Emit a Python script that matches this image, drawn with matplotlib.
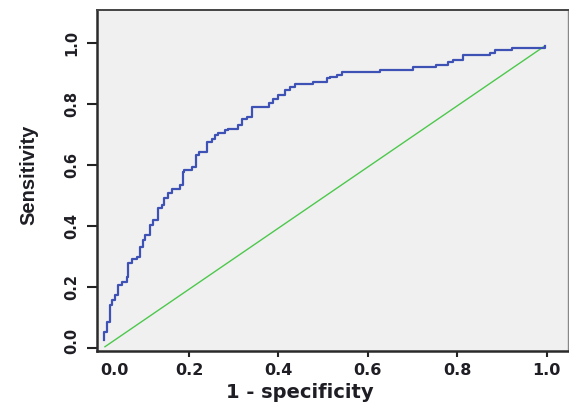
import matplotlib
matplotlib.use("Agg")
import matplotlib.pyplot as plt
from matplotlib.transforms import ScaledTranslation

# ROC curve vertices (1 - specificity, sensitivity), drawn as a staircase
fpr = [0.0105, 0.0105, 0.0159, 0.0233, 0.0284, 0.0345, 0.0418, 0.0494, 0.0606,
       0.0642, 0.0718, 0.0830, 0.0904, 0.0978, 0.1016, 0.1128, 0.1201, 0.1300,
       0.1389, 0.1441, 0.1537, 0.1626, 0.1799, 0.1872, 0.1888, 0.2060, 0.2157,
       0.2230, 0.2396, 0.2508, 0.2582, 0.2655, 0.2805, 0.2879, 0.3103, 0.3179,
       0.3291, 0.3403, 0.3796, 0.3886, 0.3998, 0.4148, 0.4259, 0.4371, 0.4781,
       0.5081, 0.5154, 0.5304, 0.5416, 0.6273, 0.7018, 0.7526, 0.7801, 0.7913,
       0.8136, 0.8734, 0.8846, 0.9219, 0.9964]
tpr = [0.027, 0.054, 0.087, 0.142, 0.158, 0.175, 0.208, 0.218, 0.235,
       0.280, 0.293, 0.300, 0.333, 0.355, 0.371, 0.404, 0.421, 0.459,
       0.470, 0.492, 0.508, 0.521, 0.535, 0.578, 0.585, 0.595, 0.634,
       0.645, 0.677, 0.685, 0.699, 0.705, 0.716, 0.718, 0.732, 0.751,
       0.759, 0.792, 0.805, 0.816, 0.830, 0.847, 0.858, 0.868, 0.872,
       0.885, 0.890, 0.896, 0.907, 0.912, 0.923, 0.929, 0.940, 0.945,
       0.961, 0.967, 0.978, 0.986, 0.990]

# reference (chance) line
ref_x = [0.012, 0.996]
ref_y = [0.005, 0.991]

xticks = [0.0, 0.2, 0.4, 0.6, 0.8, 1.0]
xticklabels = ["0.0", "0.2", "0.4", "0.6", "0.8", "1.0"]
yticks = [0.0, 0.2, 0.4, 0.6, 0.8, 1.0]
yticklabels = ["0.0", "0.2", "0.4", "0.6", "0.8", "1.0"]

text_color = "#1e1e24"

fig = plt.figure(figsize=(5.69, 4.05), dpi=100)
fig.patch.set_facecolor("white")
ax = fig.add_axes([97 / 569, 1 - 350.7 / 405, (568 - 97) / 569, (350.7 - 10) / 405])
ax.set_facecolor("#f0f0f0")

ax.plot(fpr, tpr, drawstyle="steps-post", color="#3d52b4", lw=1.6, zorder=3)
ax.plot(ref_x, ref_y, color="#4cc84c", lw=1.0, zorder=2)

ax.set_xlim(-0.0058, 1.048)
ax.set_ylim(-0.008, 1.109)

ax.set_xticks(xticks)
ax.set_xticklabels(xticklabels, fontfamily="DejaVu Sans", fontweight="bold",
                   fontsize=11.5, color=text_color)
ax.set_yticks(yticks)
ax.set_yticklabels(yticklabels, fontfamily="DejaVu Sans", fontweight="semibold",
                   fontsize=10.5, color=text_color, rotation=90, va="center")

ax.tick_params(axis="x", direction="out", length=4.5, width=1.5, pad=4,
               color="#222222")
ax.tick_params(axis="y", direction="out", length=7, width=1.5, pad=6,
               color="#222222")

# first x tick: no mark, label shifted right (as in the reference)
first = ax.xaxis.get_major_ticks()[0]
first.tick1line.set_visible(False)
lbl = first.label1
lbl.set_transform(lbl.get_transform() + ScaledTranslation(15 / 100, 0, fig.dpi_scale_trans))
# first y label sits slightly above its tick
ylbl = ax.yaxis.get_major_ticks()[0].label1
ylbl.set_transform(ylbl.get_transform() + ScaledTranslation(0, 7 / 100, fig.dpi_scale_trans))

for side in ["left", "bottom"]:
    ax.spines[side].set_color("#2a2a2a")
    ax.spines[side].set_linewidth(1.8)
ax.spines["top"].set_color("#444444")
ax.spines["top"].set_linewidth(1.4)
ax.spines["right"].set_color("#888888")
ax.spines["right"].set_linewidth(1.0)

ax.set_xlabel("1 - specificity", fontfamily="DejaVu Sans", fontweight="bold",
              fontsize=14, color=text_color, va="center", ha="center")
ax.xaxis.set_label_coords((300 - 97) / 471, (350.7 - 393) / 340.7)

ax.set_ylabel("Sensitivity", fontfamily="Liberation Sans",
              fontweight="bold", fontsize=14.5, color=text_color, va="center", ha="center")
ax.yaxis.set_label_coords((29 - 97) / 471, (350.7 - 175) / 340.7)

fig.savefig("out.png", dpi=100)
